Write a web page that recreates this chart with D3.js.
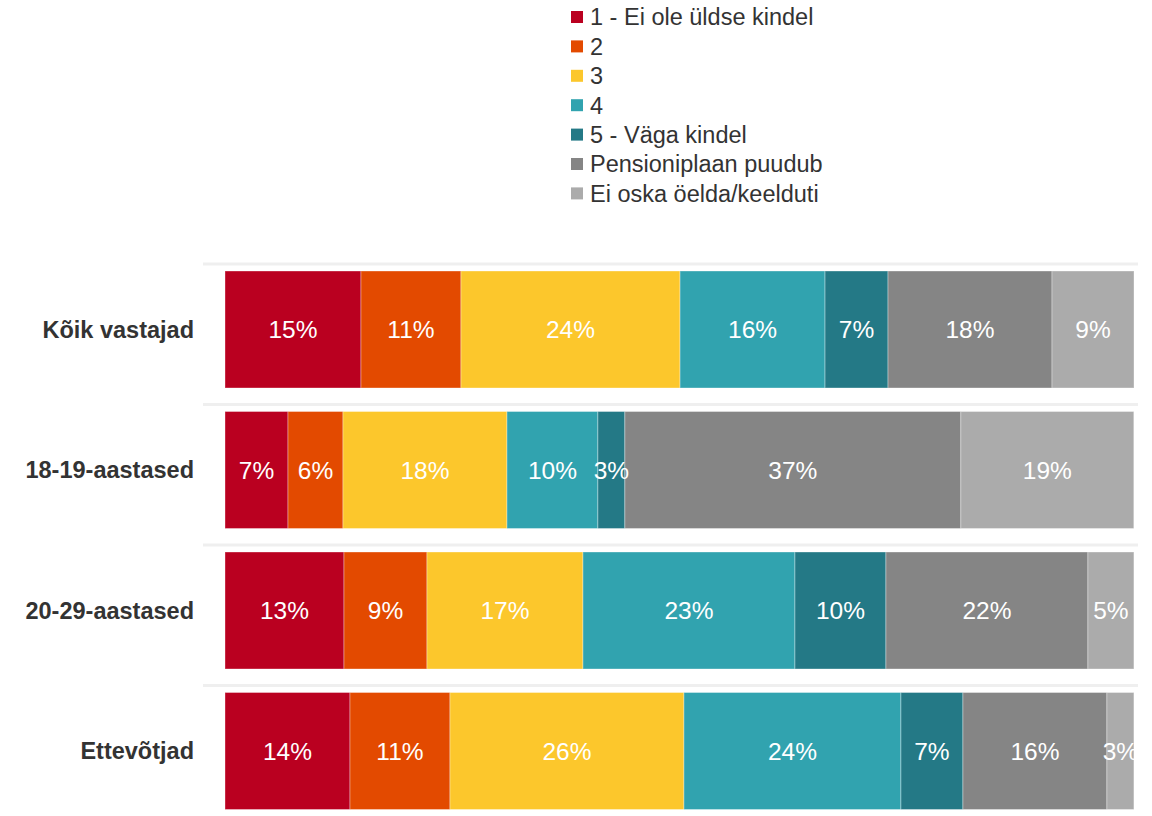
<!DOCTYPE html>
<html>
<head>
<meta charset="utf-8">
<script src="https://cdn.jsdelivr.net/npm/d3@7"></script>
<style>
  html, body { margin: 0; padding: 0; background: #fff; }
  svg { display: block; font-family: "Liberation Sans", Arial, sans-serif; }
</style>
</head>
<body>
<svg id="chart" width="1152" height="816"></svg>
<script>
// Response options (stack order left to right)
const seriesNames = [
  "1 - Ei ole üldse kindel",
  "2",
  "3",
  "4",
  "5 - Väga kindel",
  "Pensioniplaan puudub",
  "Ei oska öelda/keelduti"
];
const seriesColors = ["#BA0020", "#E34A00", "#FCC72C", "#31A3AF", "#247986", "#858585", "#ABABAB"];

// Respondent groups
const groups = ["Kõik vastajad", "18-19-aastased", "20-29-aastased", "Ettevõtjad"];

// Shares (%) per group, in series order
const koikVastajad = [14.96, 11.0, 24.1, 15.95, 6.93, 18.04, 9.02];
const aastased1819 = [6.93, 6.05, 18.04, 10.0, 2.97, 36.96, 19.03];
const aastased2029 = [13.09, 9.13, 17.16, 23.32, 10.01, 22.22, 5.06];
const ettevotjad   = [13.75, 11.0, 25.74, 23.87, 6.82, 15.84, 2.97];
const values = [koikVastajad, aastased1819, aastased2029, ettevotjad];

const svg = d3.select("#chart");

const plot = { left: 225, right: 1134, top: 264, bottom: 826 };

const x = d3.scaleLinear().domain([0, 100]).range([plot.left, plot.right]);
const y = d3.scaleBand().domain(groups).range([plot.top, plot.top + 562]).paddingInner(0).paddingOuter(0);

// Build stacked rows
const rows = groups.map((g, gi) => {
  let acc = 0;
  return values[gi].map((v, si) => {
    const seg = { group: g, series: si, value: v, x0: acc, x1: acc + v };
    acc += v;
    return seg;
  });
});

// Row separators
svg.append("g").selectAll("line")
  .data(groups)
  .join("line")
  .attr("x1", 203).attr("x2", 1138)
  .attr("y1", d => y(d)).attr("y2", d => y(d))
  .attr("stroke", "#EFEFEF").attr("stroke-width", 3);

// Clip labels to plot area
svg.append("defs").append("clipPath").attr("id", "plotClip")
  .append("rect").attr("x", plot.left).attr("y", 0)
  .attr("width", plot.right - plot.left).attr("height", 816);

const barOffset = 7, barHeight = 117;

const rowG = svg.append("g").selectAll("g")
  .data(rows)
  .join("g")
  .attr("transform", (d, i) => `translate(0,${y(groups[i]) + barOffset})`);

rowG.selectAll("rect")
  .data(d => d)
  .join("rect")
  .attr("x", d => x(d.x0))
  .attr("width", d => x(d.x1) - x(d.x0))
  .attr("y", 0)
  .attr("height", barHeight)
  .attr("fill", d => seriesColors[d.series])
  .attr("stroke", "rgba(255,255,255,0.35)")
  .attr("stroke-width", 1);

const fmt = d3.format(".0f");
rowG.append("g").attr("clip-path", "url(#plotClip)")
  .selectAll("text")
  .data(d => d)
  .join("text")
  .attr("x", d => x((d.x0 + d.x1) / 2))
  .attr("y", barHeight / 2)
  .attr("dy", "0.36em")
  .attr("text-anchor", "middle")
  .attr("fill", "#fff")
  .attr("font-size", 24.5)
  .text(d => fmt(d.value) + "%");

// Group labels
svg.append("g").selectAll("text")
  .data(groups)
  .join("text")
  .attr("x", 194)
  .attr("y", d => y(d) + barOffset + barHeight / 2)
  .attr("dy", "0.36em")
  .attr("text-anchor", "end")
  .attr("font-size", 23.5)
  .attr("font-weight", "bold")
  .attr("fill", "#333")
  .text(d => d);

// Legend
const legend = svg.append("g").attr("transform", "translate(571,0)");
const legendItems = legend.selectAll("g")
  .data(seriesNames)
  .join("g")
  .attr("transform", (d, i) => `translate(0,${17 + i * 29.4})`);
legendItems.append("rect")
  .attr("x", 0).attr("y", -6).attr("width", 12).attr("height", 12)
  .attr("fill", (d, i) => seriesColors[i]);
legendItems.append("text")
  .attr("x", 19).attr("y", 0).attr("dy", "0.36em")
  .attr("font-size", 23.5)
  .attr("fill", "#333")
  .text(d => d);
</script>
</body>
</html>
